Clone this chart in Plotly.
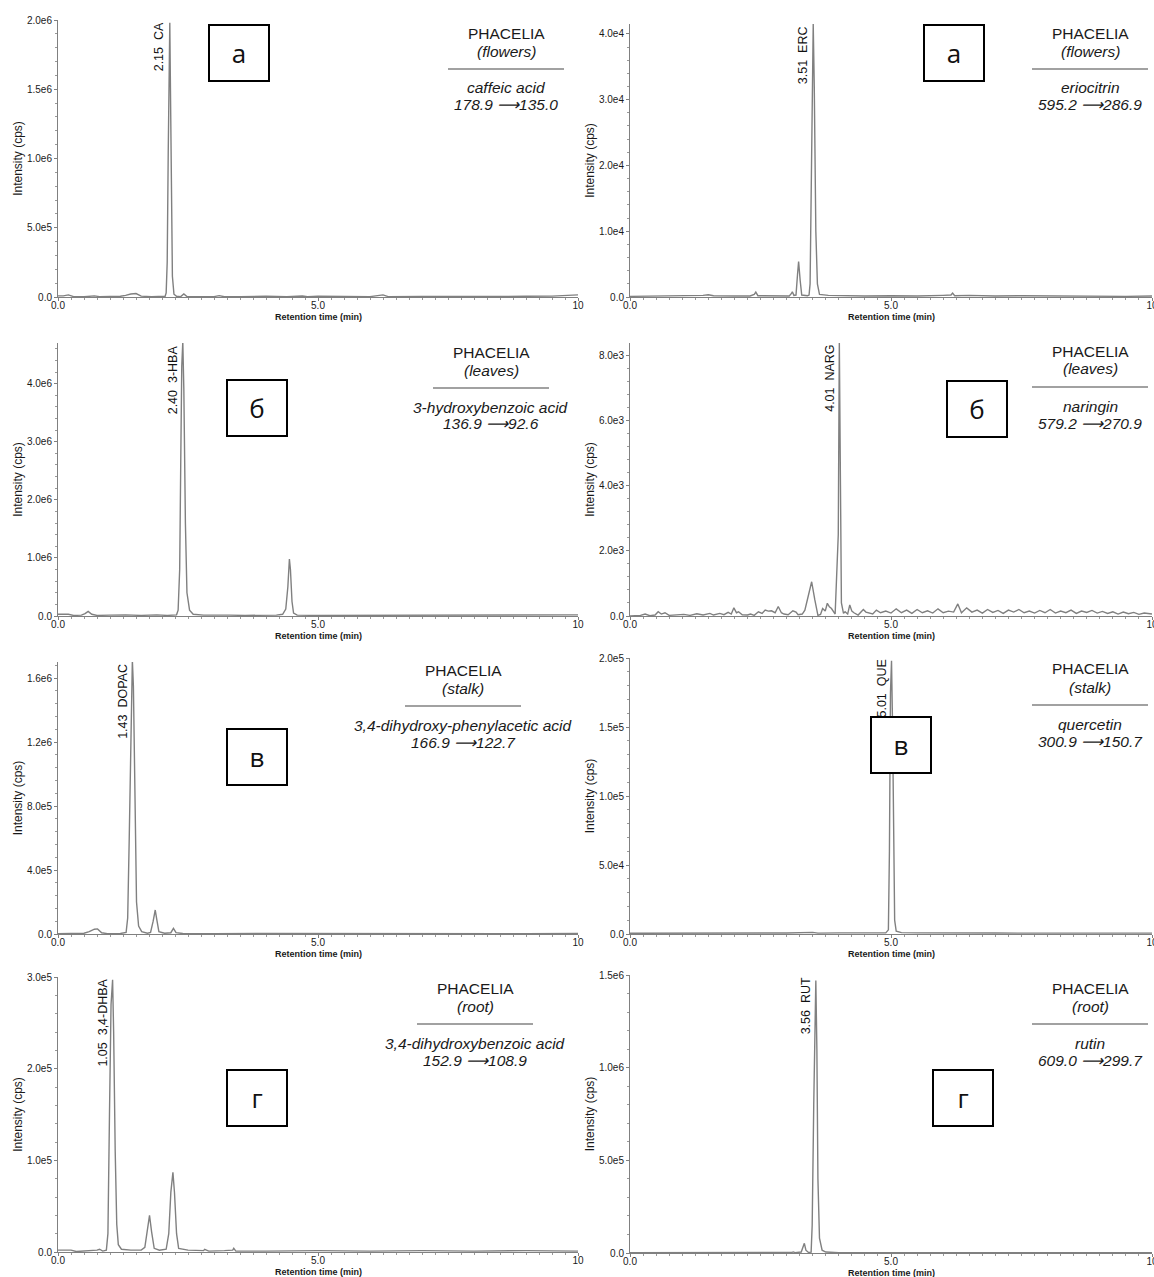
import plotly.graph_objects as go

# ---------------------------------------------------------------------------
# Chromatogram traces: (retention time, min ; intensity, cps)
# ---------------------------------------------------------------------------
ca_trace = [
    (0.0, 8e3), (0.1, 8e3), (0.2, 1.5e4), (0.3, 3e3), (0.5, 2e3), (0.7, 8e3),
    (0.8, 3e3), (1.0, 2e3), (1.2, 5e3), (1.3, 1.2e4), (1.4, 2.2e4), (1.5, 2.5e4),
    (1.6, 6e3), (1.8, 3e3), (2.0, 2e3), (2.06, 5e3), (2.08, 3e4), (2.10, 2.5e5),
    (2.12, 1.05e6), (2.14, 1.82e6), (2.15, 1.98e6), (2.16, 1.6e6), (2.18, 7e5),
    (2.20, 1.5e5), (2.23, 2e4), (2.28, 5e3), (2.36, 3e3), (2.42, 2.2e4),
    (2.48, 3e3), (2.7, 2e3), (3.0, 3e3), (3.1, 1e4), (3.2, 2e3), (3.5, 3e3),
    (4.0, 6e3), (4.4, 2e3), (4.7, 7e3), (4.8, 3e3), (5.0, 5e3), (5.5, 4e3),
    (6.0, 3e3), (6.25, 1.5e4), (6.35, 3e3), (7.0, 4e3), (7.5, 3e3), (8.0, 4e3),
    (8.5, 3e3), (9.0, 5e3), (9.5, 6e3), (9.8, 1.2e4), (10.0, 1.5e4),
]

erc_trace = [
    (0.0, 100), (0.5, 150), (1.0, 100), (1.4, 250), (1.5, 350), (1.6, 200),
    (2.0, 150), (2.3, 150), (2.38, 400), (2.41, 750), (2.45, 200), (2.8, 150),
    (3.05, 150), (3.09, 500), (3.11, 800), (3.14, 250), (3.18, 300),
    (3.21, 3500), (3.23, 5400), (3.26, 2500), (3.29, 300), (3.40, 200),
    (3.43, 300), (3.45, 2000), (3.48, 20000), (3.51, 41500), (3.53, 32000),
    (3.56, 10000), (3.59, 2000), (3.63, 400), (3.8, 250), (4.0, 200),
    (4.5, 150), (5.0, 200), (5.5, 150), (6.0, 250), (6.15, 300), (6.18, 600),
    (6.22, 200), (6.5, 250), (7.0, 150), (7.5, 200), (8.0, 150), (8.5, 100),
    (9.0, 150), (9.5, 100), (10.0, 150),
]

hba_trace = [
    (0.0, 3e4), (0.2, 3e4), (0.3, 1e4), (0.45, 1.5e4), (0.52, 4e4), (0.58, 8e4),
    (0.65, 3e4), (0.75, 1e4), (1.0, 1.5e4), (1.3, 2e4), (1.6, 1e4), (1.9, 2e4),
    (2.1, 1e4), (2.2, 1.5e4), (2.28, 2e4), (2.31, 1e5), (2.34, 8e5),
    (2.36, 2.6e6), (2.38, 4.3e6), (2.40, 4.72e6), (2.42, 3.9e6), (2.45, 1.6e6),
    (2.48, 4e5), (2.53, 1e5), (2.6, 3e4), (2.8, 1.5e4), (3.0, 1e4),
    (3.3, 1.5e4), (3.6, 1e4), (3.9, 1.2e4), (4.2, 1.5e4), (4.32, 3e4),
    (4.38, 1.2e5), (4.42, 5e5), (4.45, 9.8e5), (4.47, 8e5), (4.5, 2.5e5),
    (4.53, 5e4), (4.6, 1.5e4), (5.0, 1e4), (5.5, 1.2e4), (6.0, 1e4),
    (6.5, 1.2e4), (7.0, 1e4), (7.5, 1.3e4), (8.0, 1e4), (8.5, 1.2e4),
    (9.0, 1.5e4), (9.3, 2.5e4), (9.6, 2.5e4), (10.0, 2e4),
]

narg_trace = [
    (0.0, 0), (0.2, 20), (0.29, 60), (0.38, 10), (0.48, 30), (0.54, 130),
    (0.6, 60), (0.67, 100), (0.75, 20), (0.9, 30), (1.03, 50), (1.15, 20),
    (1.28, 70), (1.4, 30), (1.53, 80), (1.6, 30), (1.72, 80), (1.8, 40),
    (1.88, 110), (1.94, 60), (1.99, 250), (2.04, 100), (2.08, 130), (2.15, 40),
    (2.25, 30), (2.31, 60), (2.38, 20), (2.46, 130), (2.53, 80), (2.59, 180),
    (2.65, 150), (2.71, 160), (2.78, 100), (2.84, 290), (2.9, 100), (2.95, 60),
    (3.03, 40), (3.12, 160), (3.18, 120), (3.22, 40), (3.3, 60), (3.35, 180),
    (3.42, 700), (3.48, 1050), (3.54, 500), (3.6, 20), (3.65, 50), (3.69, 230),
    (3.74, 150), (3.78, 390), (3.82, 280), (3.86, 230), (3.93, 60),
    (3.99, 2500), (4.01, 8400), (4.03, 4000), (4.05, 400), (4.09, 80),
    (4.12, 130), (4.17, 60), (4.21, 340), (4.25, 150), (4.29, 100), (4.37, 30),
    (4.42, 100), (4.47, 200), (4.52, 120), (4.58, 100), (4.65, 60), (4.72, 180),
    (4.8, 100), (4.9, 150), (5.0, 90), (5.1, 220), (5.2, 100), (5.3, 180),
    (5.4, 80), (5.5, 200), (5.6, 100), (5.7, 160), (5.8, 90), (5.9, 220),
    (6.0, 100), (6.1, 150), (6.2, 120), (6.28, 370), (6.35, 100), (6.45, 250),
    (6.55, 120), (6.65, 180), (6.75, 90), (6.85, 200), (6.95, 110), (7.05, 170),
    (7.15, 80), (7.25, 180), (7.35, 120), (7.45, 200), (7.55, 100), (7.65, 150),
    (7.75, 90), (7.85, 170), (7.95, 100), (8.05, 200), (8.15, 90), (8.25, 150),
    (8.35, 100), (8.45, 180), (8.55, 80), (8.65, 150), (8.75, 110), (8.85, 170),
    (8.95, 90), (9.05, 140), (9.15, 80), (9.25, 130), (9.35, 60), (9.45, 120),
    (9.55, 70), (9.65, 110), (9.75, 50), (9.85, 90), (10.0, 60),
]

dopac_trace = [
    (0.0, 2e3), (0.3, 3e3), (0.5, 5e3), (0.6, 1.5e4), (0.7, 3e4), (0.76, 3.2e4),
    (0.84, 8e3), (0.95, 2e3), (1.2, 3e3), (1.31, 1e4), (1.34, 1e5),
    (1.37, 6e5), (1.40, 1.3e6), (1.43, 1.71e6), (1.45, 1.55e6), (1.48, 8e5),
    (1.51, 2e5), (1.55, 5e4), (1.61, 1.5e4), (1.72, 5e3), (1.78, 1e4),
    (1.83, 8e4), (1.87, 1.5e5), (1.9, 9e4), (1.94, 1.5e4), (2.05, 5e3),
    (2.17, 8e3), (2.22, 3.5e4), (2.27, 8e3), (2.4, 3e3), (2.6, 4e3),
    (3.0, 2e3), (4.0, 3e3), (5.0, 2e3), (6.0, 3e3), (7.0, 2e3), (8.0, 3e3),
    (9.0, 2e3), (10.0, 3e3),
]

que_trace = [
    (0.0, 500), (1.0, 600), (2.0, 500), (3.0, 700), (3.5, 1200), (3.6, 600),
    (4.0, 800), (4.5, 600), (4.9, 800), (4.95, 3e3), (4.97, 6e4),
    (4.99, 1.75e5), (5.01, 1.98e5), (5.03, 1.5e5), (5.05, 5e4), (5.07, 1e4),
    (5.1, 2e3), (5.2, 1e3), (5.5, 800), (6.0, 600), (7.0, 700), (8.0, 600),
    (9.0, 700), (10.0, 600),
]

dhba_trace = [
    (0.0, 2e3), (0.25, 2e3), (0.35, 500), (0.6, 1e3), (0.75, 2e3), (0.8, 3e3),
    (0.86, 1e3), (0.93, 2e3), (0.96, 2e4), (0.99, 1.5e5), (1.02, 2.7e5),
    (1.05, 2.97e5), (1.07, 2.4e5), (1.10, 1.1e5), (1.13, 3e4), (1.16, 8e3),
    (1.22, 3e3), (1.4, 2e3), (1.6, 2e3), (1.67, 5e3), (1.71, 2e4), (1.76, 4e4),
    (1.8, 2.2e4), (1.85, 4e3), (1.95, 2e3), (2.08, 3e3), (2.13, 2e4),
    (2.17, 6.5e4), (2.21, 8.7e4), (2.24, 6.5e4), (2.28, 2e4), (2.32, 4e3),
    (2.5, 2e3), (2.8, 1.5e3), (2.82, 3e3), (2.9, 1e3), (3.2, 1.5e3),
    (3.36, 2e3), (3.38, 4e3), (3.42, 1e3), (4.0, 1e3), (5.0, 1.5e3),
    (6.0, 1e3), (7.0, 1.5e3), (8.0, 1e3), (9.0, 1.5e3), (10.0, 1e3),
]

rut_trace = [
    (0.0, 1e3), (1.0, 1e3), (2.0, 1.5e3), (3.0, 2e3), (3.1, 3e3), (3.13, 6e3),
    (3.16, 2e3), (3.28, 5e3), (3.32, 3e4), (3.34, 5.2e4), (3.37, 1.5e4),
    (3.42, 3e3), (3.47, 5e3), (3.49, 1.5e5), (3.52, 8e5), (3.55, 1.35e6),
    (3.56, 1.47e6), (3.58, 1.1e6), (3.6, 4e5), (3.63, 8e4), (3.68, 1.5e4),
    (3.75, 5e3), (4.0, 2e3), (5.0, 1e3), (6.0, 1.5e3), (7.0, 1e3), (8.0, 1e3),
    (9.0, 1.5e3), (10.0, 1e3),
]

# Peak labels: retention time and abbreviation
peak_times = [2.15, 3.51, 2.40, 4.01, 1.43, 5.01, 1.05, 3.56]
peak_names = ["CA", "ERC", "3-HBA", "NARG", "DOPAC", "QUE", "3,4-DHBA", "RUT"]

# Sample part / compound / MRM transition for each panel
organs = ["flowers", "flowers", "leaves", "leaves", "stalk", "stalk", "root", "root"]
compounds = ["caffeic acid", "eriocitrin", "3-hydroxybenzoic acid", "naringin",
             "3,4-dihydroxy-phenylacetic acid", "quercetin",
             "3,4-dihydroxybenzoic acid", "rutin"]
precursor_mz = ["178.9", "595.2", "136.9", "579.2", "166.9", "300.9", "152.9", "609.0"]
product_mz = ["135.0", "286.9", "92.6", "270.9", "122.7", "150.7", "108.9", "299.7"]
panel_letters = ["а", "а", "б", "б", "в", "в", "г", "г"]

# Intensity axis tick values / labels and axis tops
y_tickvals = [
    [0, 5e5, 1e6, 1.5e6, 2e6],
    [0, 1e4, 2e4, 3e4, 4e4],
    [0, 1e6, 2e6, 3e6, 4e6],
    [0, 2e3, 4e3, 6e3, 8e3],
    [0, 4e5, 8e5, 1.2e6, 1.6e6],
    [0, 5e4, 1e5, 1.5e5, 2e5],
    [0, 1e5, 2e5, 3e5],
    [0, 5e5, 1e6, 1.5e6],
]
y_ticktext = [
    ["0.0", "5.0e5", "1.0e6", "1.5e6", "2.0e6"],
    ["0.0", "1.0e4", "2.0e4", "3.0e4", "4.0e4"],
    ["0.0", "1.0e6", "2.0e6", "3.0e6", "4.0e6"],
    ["0.0", "2.0e3", "4.0e3", "6.0e3", "8.0e3"],
    ["0.0", "4.0e5", "8.0e5", "1.2e6", "1.6e6"],
    ["0.0", "5.0e4", "1.0e5", "1.5e5", "2.0e5"],
    ["0.0", "1.0e5", "2.0e5", "3.0e5"],
    ["0.0", "5.0e5", "1.0e6", "1.5e6"],
]
y_tops = [2.0e6, 4.15e4, 4.7e6, 8.37e3, 1.70e6, 2.0e5, 3.0e5, 1.5e6]
x_tickvals = [0, 5, 10]
x_ticktext = ["0.0", "5.0", "10"]

traces = [ca_trace, erc_trace, hba_trace, narg_trace,
          dopac_trace, que_trace, dhba_trace, rut_trace]

# ---------------------------------------------------------------------------
# Layout geometry (pixels of the 1154 x 1277 page)
# ---------------------------------------------------------------------------
W, H = 1154, 1277


def px(x):
    return x / W


def py(y):
    return 1 - y / H


col_x = [(58, 578), (630, 1152)]
row_y = [((20, 297), (24, 297)), ((343, 616), (343, 616)),
         ((662, 934), (658, 934)), ((977, 1252), (975, 1253))]
box_centers = [(239, 53.5), (953.5, 53.5), (257, 408), (977, 408.5),
               (257, 756.5), (900.5, 744.5), (257, 1098), (963.5, 1098)]
text_anchor = [(506, 33), (1090, 33), (491, 352), (1090, 351),
               (463, 670), (1090, 669), (475, 988), (1090, 988)]

FONT = "Liberation Sans, Arial, sans-serif"
LINE = "#808080"
TXT = "#1a1a1a"

fig = go.Figure()
layout = dict(
    width=W, height=H, margin=dict(l=0, r=0, t=0, b=0),
    paper_bgcolor="white", plot_bgcolor="white", showlegend=False,
    template="none", font=dict(family=FONT, color=TXT),
)
annotations = []
shapes = []

for i in range(8):
    r, c = divmod(i, 2)
    n = i + 1
    xs = [p[0] for p in traces[i]]
    ys = [p[1] for p in traces[i]]
    fig.add_trace(go.Scatter(
        x=xs, y=ys, mode="lines", xaxis=f"x{n}", yaxis=f"y{n}",
        line=dict(color=LINE, width=1.4), hoverinfo="x+y",
    ))
    x0, x1 = col_x[c]
    ytop, ybot = row_y[r][c]
    major = y_tickvals[i][1] - y_tickvals[i][0]
    layout[f"xaxis{n}"] = dict(
        domain=[px(x0), px(x1)], anchor=f"y{n}", range=[0, 10],
        showline=True, linecolor=LINE, linewidth=1, showgrid=False,
        zeroline=False, ticks="outside", ticklen=3, tickcolor=LINE,
        tickvals=x_tickvals, ticktext=x_ticktext, automargin=False,
        ticklabeloverflow="allow", ticklabelstandoff=-4,
        tickfont=dict(size=10, color=TXT),
        minor=dict(dtick=0.25, tick0=0, ticks="outside", ticklen=2,
                   tickcolor="#999", showgrid=False),
    )
    layout[f"yaxis{n}"] = dict(
        domain=[py(ybot), py(ytop)], anchor=f"x{n}", range=[0, y_tops[i]],
        showline=True, linecolor=LINE, linewidth=1, showgrid=False,
        zeroline=False, ticks="outside", ticklen=3, tickcolor=LINE,
        tickvals=y_tickvals[i], ticktext=y_ticktext[i], automargin=False,
        tickfont=dict(size=10, color=TXT),
        minor=dict(dtick=major / 5, tick0=0, ticks="outside", ticklen=2,
                   tickcolor="#999", showgrid=False),
        title=dict(text="Intensity (cps)", standoff=1,
                   font=dict(size=12, color=TXT)),
    )

    # x-axis caption under each panel
    annotations.append(dict(
        xref="paper", yref="paper", x=px((x0 + x1) / 2), y=py(ybot + 20),
        text="<b>Retention time (min)</b>", xanchor="center",
        yanchor="middle", showarrow=False, font=dict(size=9, color=TXT),
    ))

    # vertical peak label next to the main peak
    annotations.append(dict(
        xref=f"x{n}", yref=f"y{n}", x=peak_times[i], y=y_tops[i],
        text=f"{peak_times[i]:.2f}\u00a0\u00a0{peak_names[i]}", textangle=-90,
        xanchor="right", yanchor="top", xshift=-1, showarrow=False,
        font=dict(size=12.5, color="#111"),
    ))

    # sample / compound description block
    cx, cy = text_anchor[i]
    lines = [
        ("PHACELIA", 0),
        (f"<i>({organs[i]})</i>", 18),
        (f"<i>{compounds[i]}</i>", 55),
        (f"<i>{precursor_mz[i]} ⟶{product_mz[i]}</i>", 72),
    ]
    for txt, dy in lines:
        annotations.append(dict(
            xref="paper", yref="paper", x=px(cx), y=py(cy + dy), text=txt,
            xanchor="center", yanchor="middle", showarrow=False,
            font=dict(size=15.5, color=TXT),
        ))
    shapes.append(dict(
        type="line", xref="paper", yref="paper",
        x0=px(cx - 58), x1=px(cx + 58), y0=py(cy + 36), y1=py(cy + 36),
        line=dict(color="#444", width=1.2), layer="above",
    ))

# panel letters in boxes (drawn last so they sit on top)
for i in range(8):
    bx, by = box_centers[i]
    annotations.append(dict(
        xref="paper", yref="paper", x=px(bx), y=py(by), text=panel_letters[i],
        xanchor="center", yanchor="middle", showarrow=False,
        width=58, height=54, borderpad=0, borderwidth=2,
        bordercolor="black", bgcolor="white",
        font=dict(family="Open Sans, Noto Sans, sans-serif", size=26,
                  color="#111"),
    ))

layout["annotations"] = annotations
layout["shapes"] = shapes
fig.update_layout(**layout)
fig.write_html("out.html")
